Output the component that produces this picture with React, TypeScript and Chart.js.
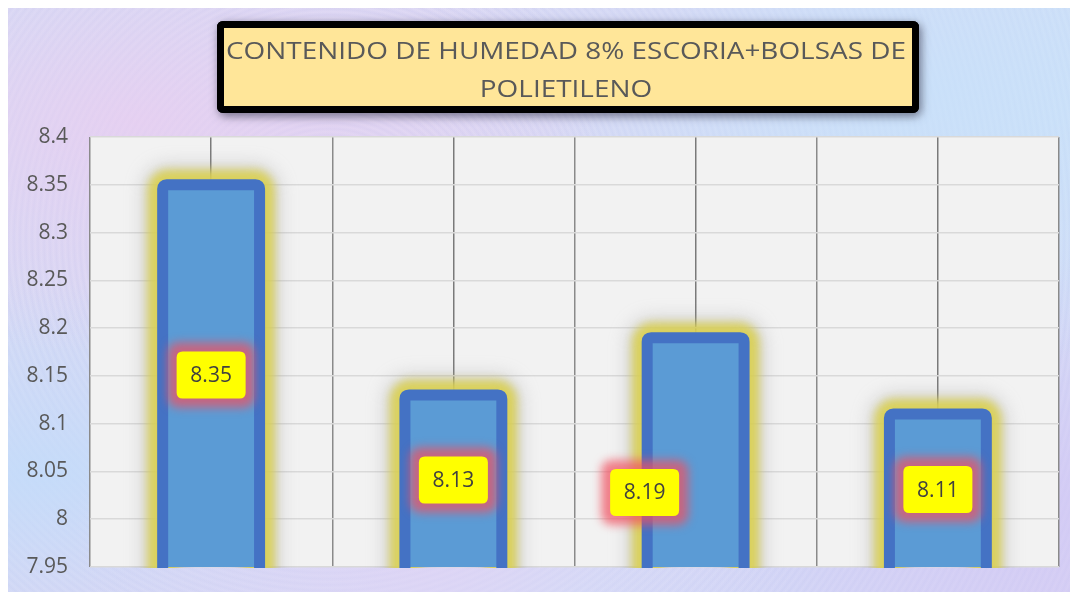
import React, { useEffect, useRef } from "react";
import { Chart, registerables } from "chart.js";

Chart.register(...registerables);

// ---- data ----
const categories = ["1", "2", "3", "4"];
const values = [8.35, 8.13, 8.19, 8.11];
const yMin = 7.95;
const yMax = 8.4;
const yStep = 0.05;
const titleLines = ["CONTENIDO DE HUMEDAD 8% ESCORIA+BOLSAS DE", "POLIETILENO"];
// where each data label sits (value units on the y axis) and its sideways nudge
const labelAnchorValues = [8.151, 8.041, 8.028, 8.031];
const labelNudgeX = [0, 0, -51, 0];

const FONT = "'Open Sans', 'Noto Sans', sans-serif";

function roundRectPath(ctx: CanvasRenderingContext2D, x: number, y: number, w: number, h: number, r: number) {
  ctx.beginPath();
  ctx.moveTo(x + r, y);
  ctx.lineTo(x + w - r, y);
  ctx.quadraticCurveTo(x + w, y, x + w, y + r);
  ctx.lineTo(x + w, y + h - r);
  ctx.quadraticCurveTo(x + w, y + h, x + w - r, y + h);
  ctx.lineTo(x + r, y + h);
  ctx.quadraticCurveTo(x, y + h, x, y + h - r);
  ctx.lineTo(x, y + r);
  ctx.quadraticCurveTo(x, y, x + r, y);
  ctx.closePath();
}

const decoPlugin = {
  id: "deco",
  beforeDraw(chart: any) {
    const { ctx, chartArea } = chart;
    ctx.save();
    ctx.fillStyle = "#f2f2f2";
    ctx.fillRect(chartArea.left, chartArea.top, chartArea.right - chartArea.left, chartArea.bottom - chartArea.top);
    ctx.restore();
  },
  beforeDatasetsDraw(chart: any) {
    const { ctx, chartArea } = chart;
    const meta = chart.getDatasetMeta(0);
    ctx.save();
    ctx.beginPath();
    ctx.rect(chartArea.left, chartArea.top - 40, chartArea.right - chartArea.left, chartArea.bottom - chartArea.top + 41);
    ctx.clip();
    meta.data.forEach((el: any) => {
      const { x, y, base, width } = el.getProps(["x", "y", "base", "width"], true);
      // soft grey halo
      ctx.filter = "blur(9px)";
      roundRectPath(ctx, x - width / 2, y, width, base - y + 20, 6);
      ctx.lineWidth = 40;
      ctx.strokeStyle = "rgba(150,150,150,0.35)";
      ctx.stroke();
      // yellow glow
      ctx.filter = "blur(4px)";
      roundRectPath(ctx, x - width / 2, y, width, base - y + 20, 6);
      ctx.lineWidth = 30;
      ctx.strokeStyle = "rgba(218,208,80,0.9)";
      ctx.stroke();
      ctx.filter = "none";
    });
    ctx.restore();
  },
  afterDatasetsDraw(chart: any) {
    const { ctx, chartArea, scales } = chart;
    const meta = chart.getDatasetMeta(0);
    ctx.save();
    ctx.beginPath();
    ctx.rect(chartArea.left, chartArea.top - 40, chartArea.right - chartArea.left, chartArea.bottom - chartArea.top + 41);
    ctx.clip();
    meta.data.forEach((el: any) => {
      const { x, y, base, width } = el.getProps(["x", "y", "base", "width"], true);
      roundRectPath(ctx, x - width / 2, y, width, base - y, 4);
      ctx.lineWidth = 11;
      ctx.strokeStyle = "#4472C4";
      ctx.stroke();
    });
    ctx.restore();

    // data labels
    meta.data.forEach((el: any, i: number) => {
      const { x } = el.getProps(["x"], true);
      const cx = x + labelNudgeX[i];
      const cy = scales.y.getPixelForValue(labelAnchorValues[i]);
      const w = 69;
      const h = 47;
      ctx.save();
      ctx.filter = "blur(5px)";
      roundRectPath(ctx, cx - w / 2 - 9, cy - h / 2 - 9, w + 18, h + 18, 12);
      ctx.fillStyle = "rgba(240,80,95,0.72)";
      ctx.fill();
      ctx.filter = "none";
      roundRectPath(ctx, cx - w / 2, cy - h / 2, w, h, 6);
      ctx.fillStyle = "#FFFF00";
      ctx.fill();
      ctx.fillStyle = "#404040";
      ctx.font = `21px ${FONT}`;
      ctx.textAlign = "center";
      ctx.textBaseline = "middle";
      ctx.fillText(values[i].toFixed(2), cx, cy + 1);
      ctx.restore();
    });
  },
  afterDraw(chart: any) {
    const { ctx } = chart;
    ctx.save();
    // title box
    const bx = 212.5, by = 19.5, bw = 695, bh = 85;
    ctx.shadowColor = "rgba(60,60,80,0.55)";
    ctx.shadowBlur = 10;
    ctx.shadowOffsetX = 2;
    ctx.shadowOffsetY = 3;
    roundRectPath(ctx, bx, by, bw, bh, 3);
    ctx.fillStyle = "#FFE699";
    ctx.fill();
    ctx.lineWidth = 7;
    ctx.strokeStyle = "#000000";
    ctx.stroke();
    ctx.shadowColor = "transparent";
    ctx.shadowBlur = 0;
    ctx.shadowOffsetX = 0;
    ctx.shadowOffsetY = 0;
    roundRectPath(ctx, bx, by, bw, bh, 3);
    ctx.fillStyle = "#FFE699";
    ctx.fill();
    ctx.stroke();

    ctx.font = `23px ${FONT}`;
    ctx.fillStyle = "#595959";
    ctx.textAlign = "center";
    ctx.textBaseline = "alphabetic";
    const m = ctx.measureText(titleLines[0]).width;
    const sx = 680 / m;
    const cx = 558;
    const baselines = [53.5, 91.5];
    titleLines.forEach((line, i) => {
      ctx.save();
      ctx.translate(cx, baselines[i]);
      ctx.scale(sx, 1);
      ctx.fillText(line, 0, 0);
      ctx.restore();
    });
    ctx.restore();
  },
};

export default function App() {
  const ref = useRef<HTMLCanvasElement | null>(null);

  useEffect(() => {
    if (!ref.current) return;
    const chart = new Chart(ref.current, {
      type: "bar",
      data: {
        labels: categories,
        datasets: [
          {
            data: values,
            backgroundColor: "#5B9BD5",
            borderWidth: 0,
            barPercentage: 0.4,
            categoryPercentage: 1,
            xAxisID: "x",
          },
        ],
      },
      options: {
        responsive: false,
        animation: false,
        layout: { padding: { left: 0, top: 132, right: 19, bottom: 25 } },
        plugins: {
          legend: { display: false },
          tooltip: { enabled: false },
          title: { display: false },
        },
        scales: {
          x: {
            type: "category",
            offset: true,
            grid: { offset: true, color: "#8a8a8a", lineWidth: 1.5, drawTicks: false },
            ticks: { display: false },
            border: { display: false },
            afterFit: (s: any) => {
              s.height = 0;
            },
          },
          x2: {
            type: "category",
            position: "bottom",
            offset: true,
            grid: { offset: false, color: "#7a7a7a", lineWidth: 1.5, drawTicks: false },
            ticks: { display: false },
            border: { display: false },
            afterFit: (s: any) => {
              s.height = 0;
            },
          },
          y: {
            min: yMin,
            max: yMax,
            ticks: {
              stepSize: yStep,
              padding: 22,
              color: "#595959",
              font: { family: FONT, size: 21 },
              callback: (v: any) => String(parseFloat(Number(v).toFixed(2))),
            },
            grid: { color: "#d9d9d9", lineWidth: 1.5, drawTicks: false },
            border: { display: false },
            afterFit: (s: any) => {
              s.width = 82;
              s.paddingTop = 0;
              s.paddingBottom = 0;
            },
          },
        },
      } as any,
      plugins: [decoPlugin],
    });
    return () => chart.destroy();
  }, []);

  const bg = [
    "radial-gradient(ellipse at 12% 20%, rgba(235,205,240,0.75), rgba(235,205,240,0) 35%)",
    "radial-gradient(ellipse at 85% 15%, rgba(200,225,250,0.85), rgba(200,225,250,0) 40%)",
    "radial-gradient(ellipse at 40% 90%, rgba(225,210,245,0.8), rgba(225,210,245,0) 40%)",
    "radial-gradient(ellipse at 95% 85%, rgba(210,200,245,0.8), rgba(210,200,245,0) 35%)",
    "radial-gradient(ellipse at 3% 80%, rgba(195,220,250,0.9), rgba(195,220,250,0) 30%)",
    "repeating-radial-gradient(circle at 30% 40%, rgba(255,255,255,0.12) 0px, rgba(180,190,230,0.12) 3px, rgba(255,255,255,0.12) 6px)",
    "linear-gradient(135deg, #cfdcf6, #dcd4f2 40%, #cde0f8 70%, #d8d2f3)",
  ].join(",");

  return (
    <div style={{ width: 1070, height: 587, marginTop: -3, background: bg }}>
      <canvas ref={ref} width={1070} height={587} style={{ display: "block", width: 1070, height: 587 }} />
    </div>
  );
}
